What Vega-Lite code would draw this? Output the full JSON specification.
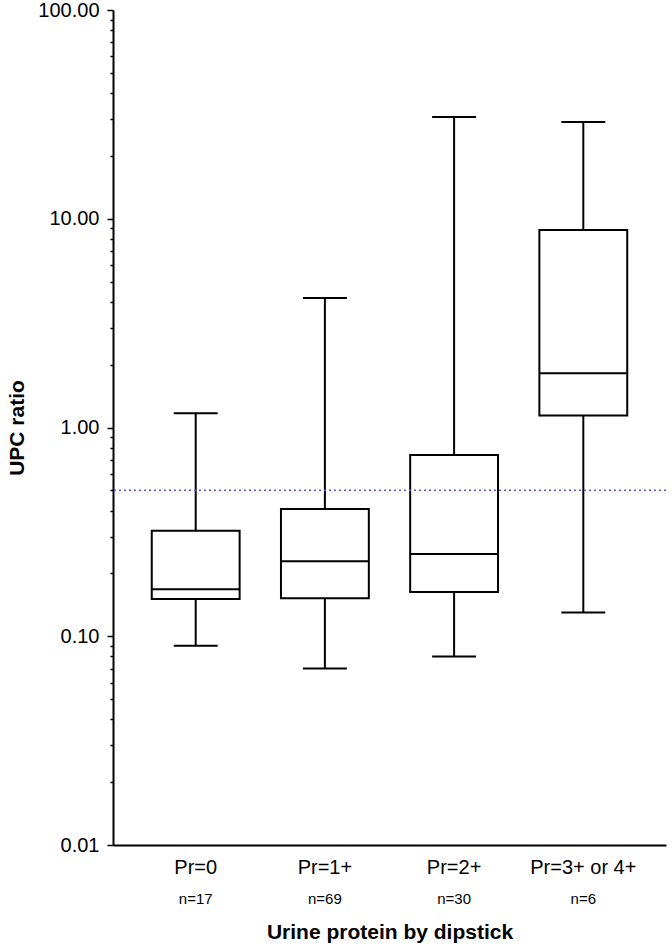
{
  "$schema": "https://vega.github.io/schema/vega-lite/v6.json",
  "width": 553,
  "height": 835,
  "autosize": {"type": "none"},
  "padding": {"left": 113, "top": 10, "right": 6, "bottom": 103},
  "background": "white",
  "config": {
    "font": "Liberation Sans",
    "view": {"stroke": null},
    "axis": {"domainColor": "black", "tickColor": "black", "labelColor": "black", "titleColor": "black", "grid": false}
  },
  "data": {
    "values": [
      {"cat": "Pr=0", "n": "n=17", "lo": 0.09, "q1": 0.151, "med": 0.168, "q3": 0.32, "hi": 1.17},
      {"cat": "Pr=1+", "n": "n=69", "lo": 0.07, "q1": 0.152, "med": 0.229, "q3": 0.407, "hi": 4.17},
      {"cat": "Pr=2+", "n": "n=30", "lo": 0.08, "q1": 0.163, "med": 0.248, "q3": 0.738, "hi": 30.7},
      {"cat": "Pr=3+ or 4+", "n": "n=6", "lo": 0.13, "q1": 1.14, "med": 1.82, "q3": 8.83, "hi": 29.1}
    ]
  },
  "layer": [
    {
      "mark": {"type": "rule", "color": "black", "strokeWidth": 2},
      "encoding": {
        "x": {"field": "cat", "type": "nominal", "sort": null,
          "scale": {"paddingInner": 0.32, "paddingOuter": 0.3},
          "axis": {"orient": "bottom", "ticks": false, "labelAngle": 0, "labelFontSize": 20, "labelPadding": 12,
            "domainWidth": 2, "title": "Urine protein by dipstick", "titleFontSize": 21, "titleFontWeight": "bold", "titlePadding": 44}},
        "y": {"field": "lo", "type": "quantitative",
          "scale": {"type": "log", "domain": [0.01, 100], "nice": false},
          "axis": {"orient": "left", "values": [0.01, 0.1, 1, 10, 100], "format": ".2f", "tickSize": 6, "tickWidth": 1.5,
            "domainWidth": 2, "labelFontSize": 20, "labelPadding": 8,
            "title": "UPC ratio", "titleFontSize": 21, "titleFontWeight": "bold", "titlePadding": 10}},
        "y2": {"field": "hi"}
      }
    },
    {
      "mark": {"type": "bar", "fill": "white", "stroke": "black", "strokeWidth": 2},
      "encoding": {
        "x": {"field": "cat", "type": "nominal", "sort": null, "axis": null},
        "y": {"field": "q1", "type": "quantitative", "axis": null},
        "y2": {"field": "q3"}
      }
    },
    {
      "mark": {"type": "bar", "fill": "white", "stroke": "black", "strokeWidth": 2},
      "encoding": {
        "x": {"field": "cat", "type": "nominal", "sort": null, "axis": null},
        "y": {"field": "med", "type": "quantitative",
          "axis": {"orient": "left", "values": [0.02,0.03,0.04,0.05,0.06,0.07,0.08,0.09,0.2,0.3,0.4,0.5,0.6,0.7,0.8,0.9,2,3,4,5,6,7,8,9,20,30,40,50,60,70,80,90],
            "labels": false, "tickSize": 3, "tickWidth": 1.5, "domain": false, "title": null}},
        "y2": {"field": "med"}
      }
    },
    {
      "mark": {"type": "bar", "fill": "white", "stroke": "black", "strokeWidth": 2, "width": {"band": 0.5}},
      "encoding": {
        "x": {"field": "cat", "type": "nominal", "sort": null,
          "axis": {"orient": "bottom", "ticks": false, "domain": false, "labelAngle": 0, "labelFontSize": 15, "labelPadding": 46,
            "labelExpr": "{'Pr=0':'n=17','Pr=1+':'n=69','Pr=2+':'n=30','Pr=3+ or 4+':'n=6'}[datum.value]", "title": null}},
        "y": {"field": "hi", "type": "quantitative", "axis": null},
        "y2": {"field": "hi"}
      }
    },
    {
      "mark": {"type": "bar", "fill": "white", "stroke": "black", "strokeWidth": 2, "width": {"band": 0.5}},
      "encoding": {
        "x": {"field": "cat", "type": "nominal", "sort": null, "axis": null},
        "y": {"field": "lo", "type": "quantitative", "axis": null},
        "y2": {"field": "lo"}
      }
    },
    {
      "data": {"values": [{"ref": 0.5}]},
      "mark": {"type": "rule", "color": "#5a5ad8", "strokeWidth": 1.5, "strokeDash": [2, 3]},
      "encoding": {
        "y": {"field": "ref", "type": "quantitative", "axis": null}
      }
    }
  ],
  "resolve": {"axis": {"x": "independent", "y": "independent"}}
}
